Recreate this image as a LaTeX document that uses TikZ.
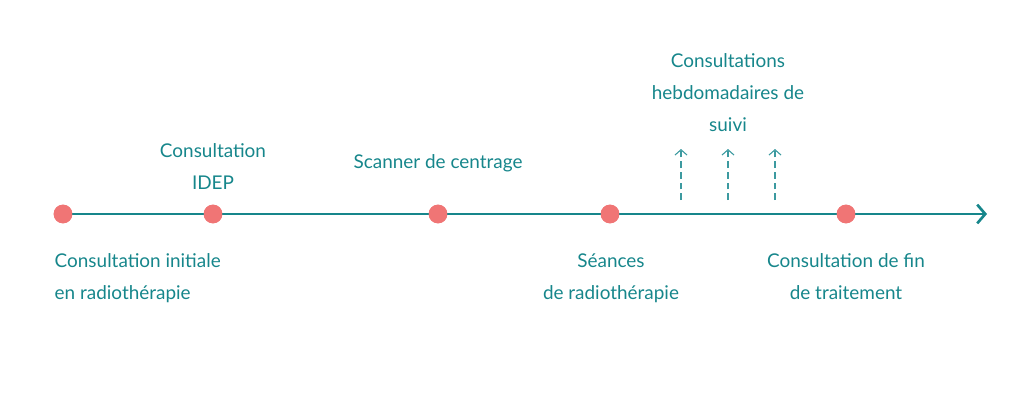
\documentclass[tikz,border=0pt]{standalone}
\usepackage{fontspec}
\setmainfont{Lato}
\usepackage{tikz}
\usetikzlibrary{arrows.meta}
\definecolor{teal}{HTML}{16868B}
\definecolor{dotred}{HTML}{F07575}
\definecolor{dashteal}{HTML}{3C9AA0}

\begin{document}
\begin{tikzpicture}[x=0.75pt,y=-0.75pt,
  jalon/.style={circle, fill=dotred, inner sep=0pt, minimum size=14pt},
  etiq/.style={text=teal, font=\fontsize{14.2}{24}\selectfont, align=center},
  suivi/.style={dashteal, thick, dash pattern=on 5pt off 3pt, -{Straight Barb[length=4pt,width=9pt]}}]
  \useasboundingbox (0,0) rectangle (1024,396);
  % axe du temps
  \coordinate (fin) at (987,214);
  \node[jalon] (j1) at (63,214) {};
  \node[jalon] (j2) at (213,214) {};
  \node[jalon] (j3) at (438,214) {};
  \node[jalon] (j4) at (610,214) {};
  \node[jalon] (j5) at (846,214) {};
  \draw[teal, line width=2pt, -{Straight Barb[length=6pt,width=14pt]}] (j1.center) -- (fin);
  \foreach \j in {1,...,5} \node[jalon] at (j\j) {};
  % consultations de suivi
  \foreach \x/\n in {681/a,728/b,775/c} {
    \coordinate (s\n) at (\x,200);
    \coordinate (t\n) at (\x,149);
    \draw[suivi] (s\n) -- (t\n);
  }
  % libellés
  \node[etiq, align=left, anchor=north west] (l1) at (50,249) {Consultation initiale\\en radiothérapie};
  \node[etiq, anchor=south] (l2) at (213,194) {Consultation\\IDEP};
  \node[etiq, anchor=south] (l3) at (438,177) {Scanner de centrage};
  \node[etiq, anchor=north] (l4) at (611,249) {Séances\\de radiothérapie};
  \node[etiq, anchor=north] (l5) at (846,249) {Consultation de fin\\de traitement};
  \node[etiq, anchor=south] (l6) at (728,136) {Consultations\\hebdomadaires de\\suivi};
\end{tikzpicture}
\end{document}
